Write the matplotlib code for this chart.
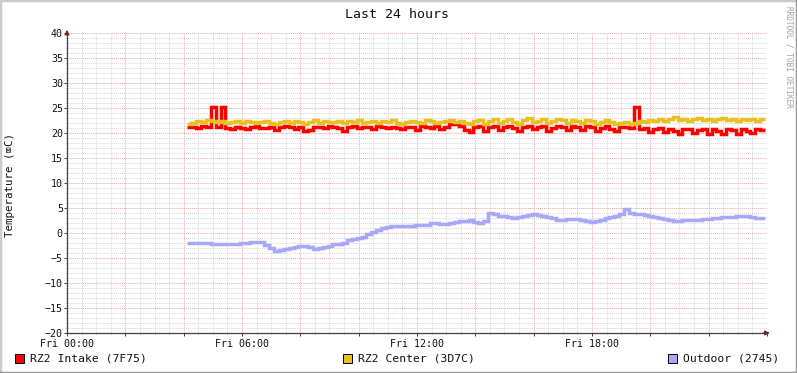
import numpy as np
import matplotlib
matplotlib.use("Agg")
import matplotlib.pyplot as plt
from matplotlib.patches import Rectangle
from matplotlib.lines import Line2D

plt.rcParams['font.family'] = ['DejaVu Sans Mono', 'DejaVu Sans']

# data: hours since Fri 00:00, 10 min samples
start_h = 4.1
step_h = 1 / 6.0

intake = [21.3, 21.2, 21.0, 21.4, 21.3, 25.2, 21.2, 25.3, 21.0, 20.8,
          21.3, 21.1, 20.9, 21.2, 21.4, 21.1, 21.0, 21.3, 20.7, 21.2,
          21.4, 21.2, 20.9, 21.3, 20.4, 20.7, 21.2, 21.3, 21.0, 21.4,
          21.3, 21.0, 20.5, 21.2, 21.4, 21.1, 21.3, 21.2, 20.9, 21.4,
          21.2, 21.0, 21.3, 21.1, 20.8, 21.3, 21.2, 20.7, 21.4, 21.2,
          21.0, 21.5, 20.9, 21.3, 21.8, 21.9, 21.4, 20.6, 20.2, 21.3,
          21.4, 20.5, 21.3, 21.5, 20.6, 21.2, 21.4, 21.0, 20.4, 21.3,
          21.5, 20.8, 21.2, 21.4, 20.5, 21.0, 21.5, 21.3, 20.6, 21.4,
          21.2, 20.7, 21.4, 21.3, 20.5, 21.0, 21.4, 20.9, 20.4, 21.2,
          21.3, 21.0, 25.3, 20.9, 21.1, 20.3, 20.8, 21.0, 20.2, 20.9,
          20.4, 19.8, 20.8, 20.9, 20.1, 20.7, 20.9, 19.9, 20.8, 20.5,
          19.8, 20.9, 20.6, 19.9, 20.8, 20.4, 20.0, 20.9, 20.7]

center = [21.9, 22.1, 22.4, 22.3, 22.6, 22.5, 22.2, 22.4, 22.0, 22.3,
          22.5, 22.1, 22.4, 22.2, 22.0, 22.3, 22.5, 22.1, 21.8, 22.3,
          22.4, 22.0, 22.5, 22.2, 21.9, 22.3, 22.6, 22.1, 22.4, 22.2,
          22.3, 22.5, 22.0, 22.4, 22.2, 22.6, 22.1, 22.3, 22.5, 22.0,
          22.4, 22.2, 22.6, 22.1, 21.9, 22.3, 22.5, 22.2, 22.0, 22.6,
          22.4, 22.1, 22.3, 22.5, 22.7, 22.2, 22.5, 22.0, 21.8, 22.4,
          22.6, 21.9, 22.5, 22.8, 22.1, 22.4, 22.9, 22.3, 21.8, 22.6,
          23.0, 22.2, 22.5, 22.9, 22.0, 22.4, 22.8, 22.6, 22.0, 22.7,
          22.5, 22.1, 22.6, 22.4, 21.9, 22.3, 22.6, 22.2, 21.8, 22.1,
          22.3, 21.9, 22.0, 22.4, 22.2, 22.6, 22.4, 22.8, 22.5, 22.9,
          23.2, 22.7, 22.9, 22.5, 22.8, 23.0, 22.6, 22.9, 22.5, 22.8,
          23.0, 22.6, 22.9, 22.5, 22.8, 22.6, 22.9, 22.5, 22.8]

outdoor = [-1.9, -1.9, -1.9, -2.0, -2.0, -2.1, -2.1, -2.2, -2.2, -2.1,
           -2.1, -2.0, -1.9, -1.8, -1.7, -1.8, -2.3, -2.9, -3.6, -3.3,
           -3.1, -2.9, -2.8, -2.6, -2.5, -2.7, -3.2, -3.0, -2.7, -2.5,
           -2.2, -2.2, -2.0, -1.3, -1.2, -0.9, -0.7, -0.2, 0.2, 0.7,
           1.0, 1.3, 1.5, 1.5, 1.5, 1.5, 1.5, 1.6, 1.7, 1.7,
           2.0, 2.1, 1.9, 1.8, 2.1, 2.3, 2.5, 2.4, 2.6, 2.3,
           2.0, 2.5, 4.0, 3.8, 3.5, 3.4, 3.3, 3.1, 3.2, 3.4,
           3.7, 3.8, 3.6, 3.4, 3.3, 3.0, 2.6, 2.6, 2.8, 2.9,
           2.8, 2.6, 2.5, 2.3, 2.4, 2.7, 3.0, 3.2, 3.4, 3.8,
           4.8, 4.0, 3.9, 3.8, 3.7, 3.4, 3.2, 3.0, 2.9, 2.7,
           2.5, 2.5, 2.6, 2.6, 2.6, 2.7, 2.8, 2.9, 3.0, 3.1,
           3.2, 3.3, 3.3, 3.4, 3.4, 3.4, 3.3, 3.0, 3.0]

xtick_pos = list(range(0, 25, 2))
xtick_labels = ['Fri 00:00', '', '', 'Fri 06:00', '', '', 'Fri 12:00',
                '', '', 'Fri 18:00', '', '', '']
legend_labels = ['RZ2 Intake (7F75)', 'RZ2 Center (3D7C)', 'Outdoor (2745)']
colors = ['#ff0000', '#e8c020', '#a8a8f6']

W, H = 797, 373
fig = plt.figure(figsize=(W / 100, H / 100), dpi=100)
fig.patch.set_facecolor('white')
ax = fig.add_axes([67 / W, 40 / H, 700 / W, 300 / H])
ax.set_facecolor('white')

edges = start_h + step_h * np.arange(len(intake) + 1)
ax.stairs(intake, edges, baseline=None, color=colors[0], lw=2.5, zorder=3)
ax.stairs(center, edges, baseline=None, color=colors[1], lw=2.5, zorder=4)
ax.stairs(outdoor, edges, baseline=None, color=colors[2], lw=2.5, zorder=5)

ax.set_xlim(0, 24)
ax.set_ylim(-20, 40)

ax.set_xticks(xtick_pos)
ax.set_xticklabels(xtick_labels)
ax.set_xticks(np.arange(0, 24.01, 0.5), minor=True)
ax.set_yticks(np.arange(-20, 41, 5))
ax.set_yticks(np.arange(-20, 41, 1), minor=True)

ax.grid(which='minor', color='#d8d8d8', linestyle=(0, (1, 1)), lw=0.7, zorder=1)
ax.grid(which='major', color='#e8a8a8', linestyle=(0, (1, 1)), lw=0.7, zorder=2)
ax.set_axisbelow(True)

for s in ['top', 'right']:
    ax.spines[s].set_visible(False)
for s in ['left', 'bottom']:
    ax.spines[s].set_color('#404040')
    ax.spines[s].set_linewidth(0.9)
    ax.spines[s].set_zorder(6)

ax.tick_params(which='major', direction='out', length=2, width=0.7,
               color='#404040', labelsize=7.2, labelcolor='#111111')
ax.tick_params(axis='x', which='major', pad=2)
ax.tick_params(axis='y', which='major', pad=1)
ax.tick_params(which='minor', direction='out', length=1, width=0.5,
               color='#808080')

fig.text(10 / W, 1 - 185 / H, 'Temperature (\u2327C)', rotation=90,
         ha='center', va='center', fontsize=7.8, color='#111111')

# arrow heads
ax.annotate('', xy=(0, 1.02), xytext=(0, 0.99), xycoords='axes fraction',
            arrowprops=dict(arrowstyle='-|>', color='#7f1f1f', lw=0.8,
                            mutation_scale=7), annotation_clip=False)
ax.annotate('', xy=(1.008, 0), xytext=(0.99, 0), xycoords='axes fraction',
            arrowprops=dict(arrowstyle='-|>', color='#7f1f1f', lw=0.8,
                            mutation_scale=7), annotation_clip=False)

fig.text(397 / W, 1 - 14 / H, 'Last 24 hours', ha='center', va='center',
         fontsize=9.5, color='#111111')

fig.text(789 / W, 1 - 6 / H, 'RRDTOOL / TOBI OETIKER', rotation=270,
         ha='center', va='top', fontsize=5.6, color='#a0a0a0')

# legend
box_x = [15, 343, 668]
for bx, lab, c in zip(box_x, legend_labels, colors):
    fig.patches.append(Rectangle((bx / W, 1 - 363 / H), 9 / W, 9 / H,
                                 transform=fig.transFigure, facecolor=c,
                                 edgecolor='black', lw=0.7))
    fig.text((bx + 15) / W, 1 - 358.5 / H, lab, ha='left', va='center',
             fontsize=8.2, color='#111111')

# frame
fig.add_artist(Line2D([0, 0], [0, 1], color='#cbcbcb', lw=2.5,
                      transform=fig.transFigure))
fig.add_artist(Line2D([0, 1], [1, 1], color='#cbcbcb', lw=2.5,
                      transform=fig.transFigure))
fig.add_artist(Line2D([1, 1], [0, 1], color='#999999', lw=2.5,
                      transform=fig.transFigure))
fig.add_artist(Line2D([0, 1], [0, 0], color='#999999', lw=2.5,
                      transform=fig.transFigure))

fig.savefig('out.png', dpi=100)
